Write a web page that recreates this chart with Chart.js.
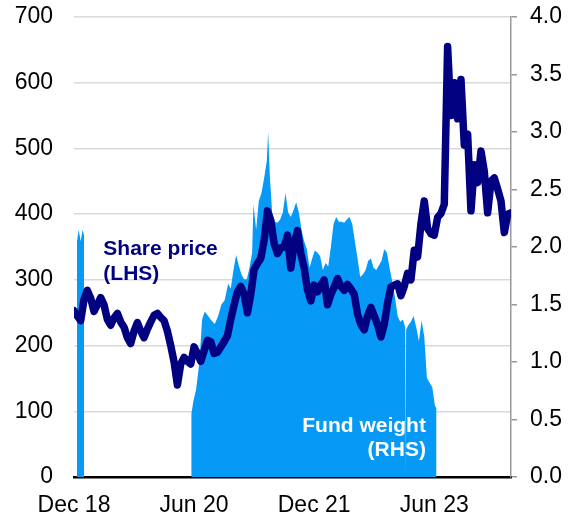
<!DOCTYPE html>
<html>
<head>
<meta charset="utf-8">
<script src="https://cdn.jsdelivr.net/npm/chart.js@4"></script>
<style>
  html, body { margin: 0; padding: 0; background: #fff; }
  #wrap { width: 570px; height: 518px; position: relative; }
</style>
</head>
<body>
<div id="wrap"><canvas id="chart"></canvas></div>
<script>
// Share price (LHS), one reading every half month from Dec 18
const priceValues = [
    253, 245, 238, 270, 284, 272, 252, 262, 273, 262,
    240, 231, 242, 249, 236, 228, 212, 203, 222, 235,
    222, 212, 225, 236, 246, 249, 243, 238, 222, 200,
    175, 140, 172, 182, 176, 172, 198, 188, 176, 192,
    208, 206, 188, 190, 198, 206, 215, 240, 262, 282,
    290, 278, 250, 278, 316, 325, 333, 360, 405, 390,
    355, 340, 349, 350, 368, 318, 355, 375, 340, 318,
    285, 268, 292, 282, 292, 300, 262, 278, 289, 302,
    290, 284, 293, 286, 278, 248, 232, 224, 245, 258,
    245, 232, 213, 232, 265, 289, 292, 294, 276, 290,
    310, 300, 345, 335, 385, 420, 378, 370, 368, 395,
    401, 415, 655, 550, 600, 545, 605, 505, 522, 405,
    475, 448, 496, 465, 402, 450, 455, 438, 420, 372,
    400, 402
];

// Fund weight (RHS), months after Dec 18 and weight in per cent
const weightMonths = [
    0.45, 0.45, 0.7, 1.0, 1.3, 1.5, 1.5,
    17.55, 17.6, 17.9, 18.3, 18.8, 19.2, 19.6, 20.1, 20.6, 21.1, 21.6,
    22.1, 22.6, 23.1, 23.5, 23.9, 24.3, 24.7, 25.1, 25.5, 25.9,
    26.3, 26.7, 26.9, 27.3, 27.7, 28.1, 28.5, 28.9, 29.1, 29.35,
    29.7, 30.1, 30.5, 30.9, 31.3, 31.7, 32.1, 32.5, 32.9, 33.3,
    33.7, 34.1, 34.5, 34.9, 35.3, 35.7, 36.1, 36.5, 36.9, 37.3,
    37.7, 38.1, 38.5, 38.9, 39.3, 39.7, 40.1, 40.5, 40.9, 41.3,
    41.7, 42.1, 42.5, 42.9, 43.3, 43.7, 44.1, 44.5, 44.9, 45.3,
    45.7, 46.1, 46.5, 46.9, 47.3, 47.7, 48.1, 48.5, 48.9, 49.3,
    49.65, 49.72, 49.78, 50.1, 50.5, 50.9, 51.3, 51.7, 52.1, 52.5,
    52.9, 53.3, 53.7, 54.1, 54.3, 54.3, 65.5
];
const weightValues = [
    0, 2.05, 2.15, 2.05, 2.15, 2.1, 0,
    0, 0.55, 0.66, 0.76, 1.0, 1.37, 1.44, 1.40, 1.36, 1.33, 1.40,
    1.50, 1.54, 1.68, 1.64, 1.80, 1.93, 1.84, 1.76, 1.72, 1.72,
    1.82, 1.95, 2.37, 2.15, 2.40, 2.47, 2.60, 2.75, 3.00, 2.62,
    2.30, 2.22, 2.21, 2.24, 2.30, 2.47, 2.30, 2.26, 2.32, 2.39,
    2.30, 2.15, 2.05, 1.98, 1.82, 1.90, 1.97, 1.95, 1.92, 1.80,
    1.86, 1.83, 2.00, 2.20, 2.26, 2.22, 2.22, 2.21, 2.24, 2.26,
    2.20, 2.05, 1.90, 1.74, 1.76, 1.80, 1.88, 1.90, 1.82, 1.80,
    1.84, 1.88, 1.98, 1.95, 1.82, 1.70, 1.57, 1.40, 1.35, 1.37,
    1.30, 0, 1.28, 1.32, 1.35, 1.40, 1.30, 1.18, 1.36, 1.22,
    0.86, 0.82, 0.78, 0.62, 0.60, 0, 0
];

const tickMonths = [0, 18, 36, 54];
const tickLabels = ['Dec 18', 'Jun 20', 'Dec 21', 'Jun 23'];

const FONT = "'Liberation Sans', Arial, sans-serif";
const NAVY = '#000080';
const BLUE = '#0699f6';

// Text labels for the two series
const seriesLabels = {
    id: 'seriesLabels',
    afterDatasetsDraw(chart) {
        const { ctx, scales } = chart;
        ctx.save();
        ctx.font = 'bold 21px ' + FONT;
        ctx.textBaseline = 'alphabetic';

        ctx.fillStyle = NAVY;
        ctx.textAlign = 'left';
        const sx = scales.x.getPixelForValue(4.4);
        ctx.fillText('Share price', sx, scales.y.getPixelForValue(338));
        ctx.fillText('(LHS)', sx, scales.y.getPixelForValue(300));

        ctx.fillStyle = '#ffffff';
        ctx.textAlign = 'right';
        const fx = scales.x.getPixelForValue(52.75);
        ctx.fillText('Fund weight', fx, scales.y2.getPixelForValue(0.395));
        ctx.fillText('(RHS)', fx, scales.y2.getPixelForValue(0.18));
        ctx.restore();
    }
};

// fixed axis boxes so the plot area lands where we want it
function fixVertical(width) {
    return (scale) => {
        scale.width = width;
        scale.paddingTop = 8;
        scale.paddingBottom = 8;
    };
}

const ctx = document.getElementById('chart').getContext('2d');
new Chart(ctx, {
    type: 'line',
    data: {
        datasets: [
            {
                label: 'Share price',
                data: priceValues.map((v, i) => ({ x: i / 2, y: v })),
                yAxisID: 'y',
                borderColor: NAVY,
                borderWidth: 7.5,
                borderJoinStyle: 'round',
                borderCapStyle: 'round',
                pointRadius: 0,
                tension: 0,
                fill: false,
                order: 0
            },
            {
                label: 'Fund weight',
                data: weightMonths.map((m, i) => ({ x: m, y: weightValues[i] })),
                yAxisID: 'y2',
                backgroundColor: BLUE,
                borderWidth: 0,
                pointRadius: 0,
                tension: 0,
                fill: 'origin',
                order: 1
            }
        ]
    },
    options: {
        responsive: true,
        maintainAspectRatio: false,
        animation: false,
        layout: { padding: { top: 17, right: 0, left: 0, bottom: 0 } },
        plugins: {
            legend: { display: false },
            tooltip: { enabled: false }
        },
        scales: {
            x: {
                type: 'linear',
                min: 0,
                max: 65.5,
                afterBuildTicks: (scale) => {
                    scale.ticks = tickMonths.map(v => ({ value: v }));
                },
                afterFit: (scale) => { scale.height = 41; },
                grid: { display: false, drawTicks: false },
                border: { display: true, color: '#000', width: 2.5 },
                ticks: {
                    padding: 15,
                    maxRotation: 0,
                    autoSkip: false,
                    color: '#000',
                    font: { family: FONT, size: 23 },
                    callback: (v) => tickLabels[tickMonths.indexOf(v)]
                }
            },
            y: {
                position: 'left',
                min: 0,
                max: 700,
                afterFit: fixVertical(74),
                grid: { color: '#d9d9d9', lineWidth: 1.5, drawTicks: false },
                border: { display: false },
                ticks: {
                    stepSize: 100,
                    padding: 21,
                    color: '#000',
                    font: { family: FONT, size: 23 }
                }
            },
            y2: {
                position: 'right',
                min: 0,
                max: 4,
                afterFit: fixVertical(59),
                grid: {
                    drawOnChartArea: false,
                    drawTicks: true,
                    tickLength: 6,
                    color: '#999999',
                    lineWidth: 1.5
                },
                border: { display: true, color: '#999999', width: 1.5 },
                ticks: {
                    stepSize: 0.5,
                    padding: 13,
                    color: '#000',
                    font: { family: FONT, size: 23 },
                    callback: (v) => v.toFixed(1)
                }
            }
        }
    },
    plugins: [seriesLabels]
});
</script>
</body>
</html>
